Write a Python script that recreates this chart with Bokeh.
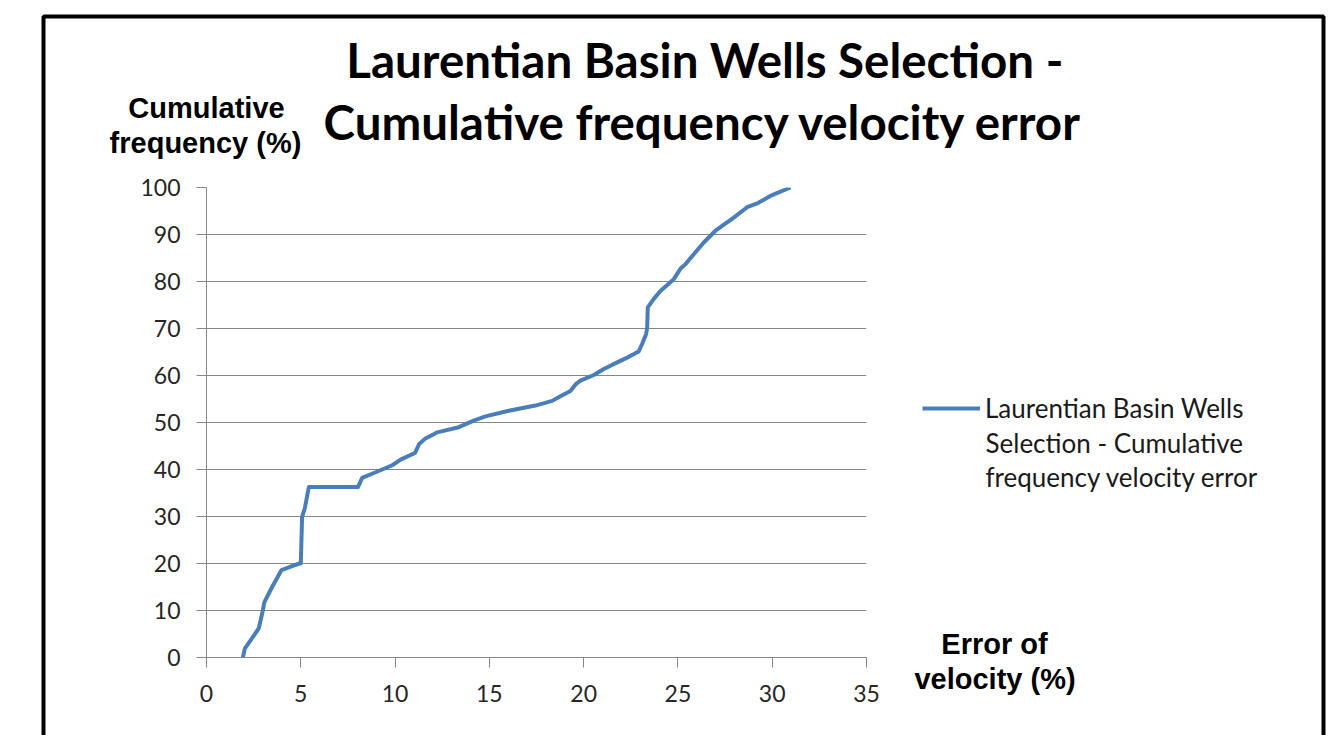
from bokeh.plotting import figure
from bokeh.models import (Label, BoxAnnotation, FixedTicker, Range1d, Legend, LegendItem, GridBox)
from bokeh.embed import file_html
from bokeh.resources import INLINE

# ---- data ----
error_pct = [1.93, 2.03, 2.4, 2.77, 2.95, 3.07, 3.48, 3.98, 4.5, 4.93, 5.0, 5.07, 5.21, 5.43,
             6.5, 8.04, 8.25, 8.78, 9.85, 10.29, 11.05, 11.29, 11.61, 12.05, 12.23, 13.38,
             14.17, 14.79, 16.03, 17.44, 18.33, 18.77, 19.30, 19.57, 19.83, 20.54, 21.07,
             21.78, 22.31, 22.92, 23.10, 23.31, 23.37, 23.40, 23.72, 24.07, 24.78, 25.13,
             25.40, 25.84, 26.37, 26.99, 27.96, 28.67, 29.2, 29.9, 30.97]
cum_freq = [0.0, 1.9, 4.0, 6.2, 9.3, 11.8, 15.0, 18.6, 19.4, 20.0, 20.0, 29.9, 31.7, 36.3,
            36.3, 36.3, 38.2, 39.1, 40.9, 42.1, 43.5, 45.5, 46.6, 47.5, 47.9, 49.0,
            50.4, 51.3, 52.5, 53.6, 54.6, 55.6, 56.7, 58.1, 58.9, 60.1, 61.4,
            62.8, 63.8, 65.1, 66.7, 68.8, 70.2, 74.5, 76.3, 78.0, 80.5, 82.7,
            83.7, 85.8, 88.3, 90.8, 93.6, 95.8, 96.6, 98.2, 100.0]
x_ticks = [0, 5, 10, 15, 20, 25, 30, 35]
y_ticks = [0, 10, 20, 30, 40, 50, 60, 70, 80, 90, 100]

title_lines = ["Laurentian Basin Wells Selection -", "Cumulative frequency velocity error"]
y_title_lines = ["Cumulative", "frequency (%)"]
x_title_lines = ["Error of", "velocity (%)"]
legend_lines = ["Laurentian Basin Wells", "Selection - Cumulative", "frequency velocity error"]

LINE_COLOR = "#4A7EBB"
GRID = "#868686"
TICK_TXT = "#262626"
CAL = "Lato"
ARIAL = "Liberation Sans"
W, H = 1336, 735

# ---------------- chart figure ----------------
p = figure(width=W, height=H, output_backend="svg", toolbar_location=None,
           x_range=Range1d(0, 35), y_range=Range1d(0, 100),
           min_border_left=206, min_border_right=W - 866, min_border_top=187,
           min_border_bottom=H - 657)
p.frame_align = False
p.outline_line_color = None
p.background_fill_color = "white"
p.border_fill_color = "white"

for ax in (p.xaxis[0], p.yaxis[0]):
    ax.axis_line_color = GRID
    ax.axis_line_width = 1
    ax.major_tick_line_color = GRID
    ax.major_tick_in = 0
    ax.major_tick_out = 10
    ax.minor_tick_line_color = None
    ax.major_label_text_font = CAL
    ax.major_label_text_font_size = "23px"
    ax.major_label_text_color = TICK_TXT
p.xaxis.ticker = FixedTicker(ticks=x_ticks)
p.yaxis.ticker = FixedTicker(ticks=y_ticks)
p.xaxis.major_label_standoff = 17
p.yaxis.major_label_standoff = 16
p.xgrid.grid_line_color = None
p.ygrid.grid_line_color = GRID
p.ygrid.grid_line_width = 1
p.ygrid.ticker = FixedTicker(ticks=y_ticks)

line_style = dict(line_color=LINE_COLOR, line_width=4, line_join="round")
p.line(error_pct, cum_freq, **line_style)

# ---------------- text / legend overlay (same size, transparent) ----------------
q = figure(width=W, height=H, output_backend="svg", toolbar_location=None,
           x_range=Range1d(0, W), y_range=Range1d(H, 0),
           x_axis_type=None, y_axis_type=None, min_border=0)
q.frame_align = False
q.outline_line_color = None
q.background_fill_alpha = 0
q.border_fill_alpha = 0

# same series, hidden here; it only feeds the legend entry
r_leg = q.line(error_pct, cum_freq, visible=False, **line_style)
legend = Legend(items=[LegendItem(label=legend_lines[0], renderers=[r_leg])],
                location=(922, 309), padding=0, margin=0, spacing=0,
                glyph_width=58, glyph_height=36, label_height=36, label_standoff=5,
                border_line_color=None, background_fill_alpha=0, click_policy="none",
                label_text_font=CAL, label_text_font_size="26px", label_text_color="#1a1a1a")
q.add_layout(legend, "center")

for txt, yy in zip(legend_lines[1:], [442.5, 476]):
    q.add_layout(Label(x=985, y=yy, text=txt, text_font=CAL, text_font_size="26px",
                       text_color="#1a1a1a", text_align="left", text_baseline="middle"))
for txt, xx, yy in zip(title_lines, [704.5, 703], [59, 121]):
    q.add_layout(Label(x=xx, y=yy, text=txt, text_font=CAL, text_font_size="47.5px",
                       text_font_style="bold", text_color="black",
                       text_align="center", text_baseline="middle"))
for txt, xx, yy in zip(y_title_lines, [206, 205], [107.5, 142.5]):
    q.add_layout(Label(x=xx, y=yy, text=txt, text_font=ARIAL, text_font_size="29px",
                       text_font_style="bold", text_color="black",
                       text_align="center", text_baseline="middle"))
for txt, xx, yy in zip(x_title_lines, [994, 994.5], [643, 678]):
    q.add_layout(Label(x=xx, y=yy, text=txt, text_font=ARIAL, text_font_size="29px",
                       text_font_style="bold", text_color="black",
                       text_align="center", text_baseline="middle"))
q.add_layout(BoxAnnotation(left=43, right=1323, top=16, bottom=H + 40,
                           fill_alpha=0, line_color="black", line_alpha=1, line_width=4))

root = GridBox(children=[(p, 0, 0), (q, 0, 0)], width=W, height=H)
open("out.html", "w").write(file_html(root, INLINE))
